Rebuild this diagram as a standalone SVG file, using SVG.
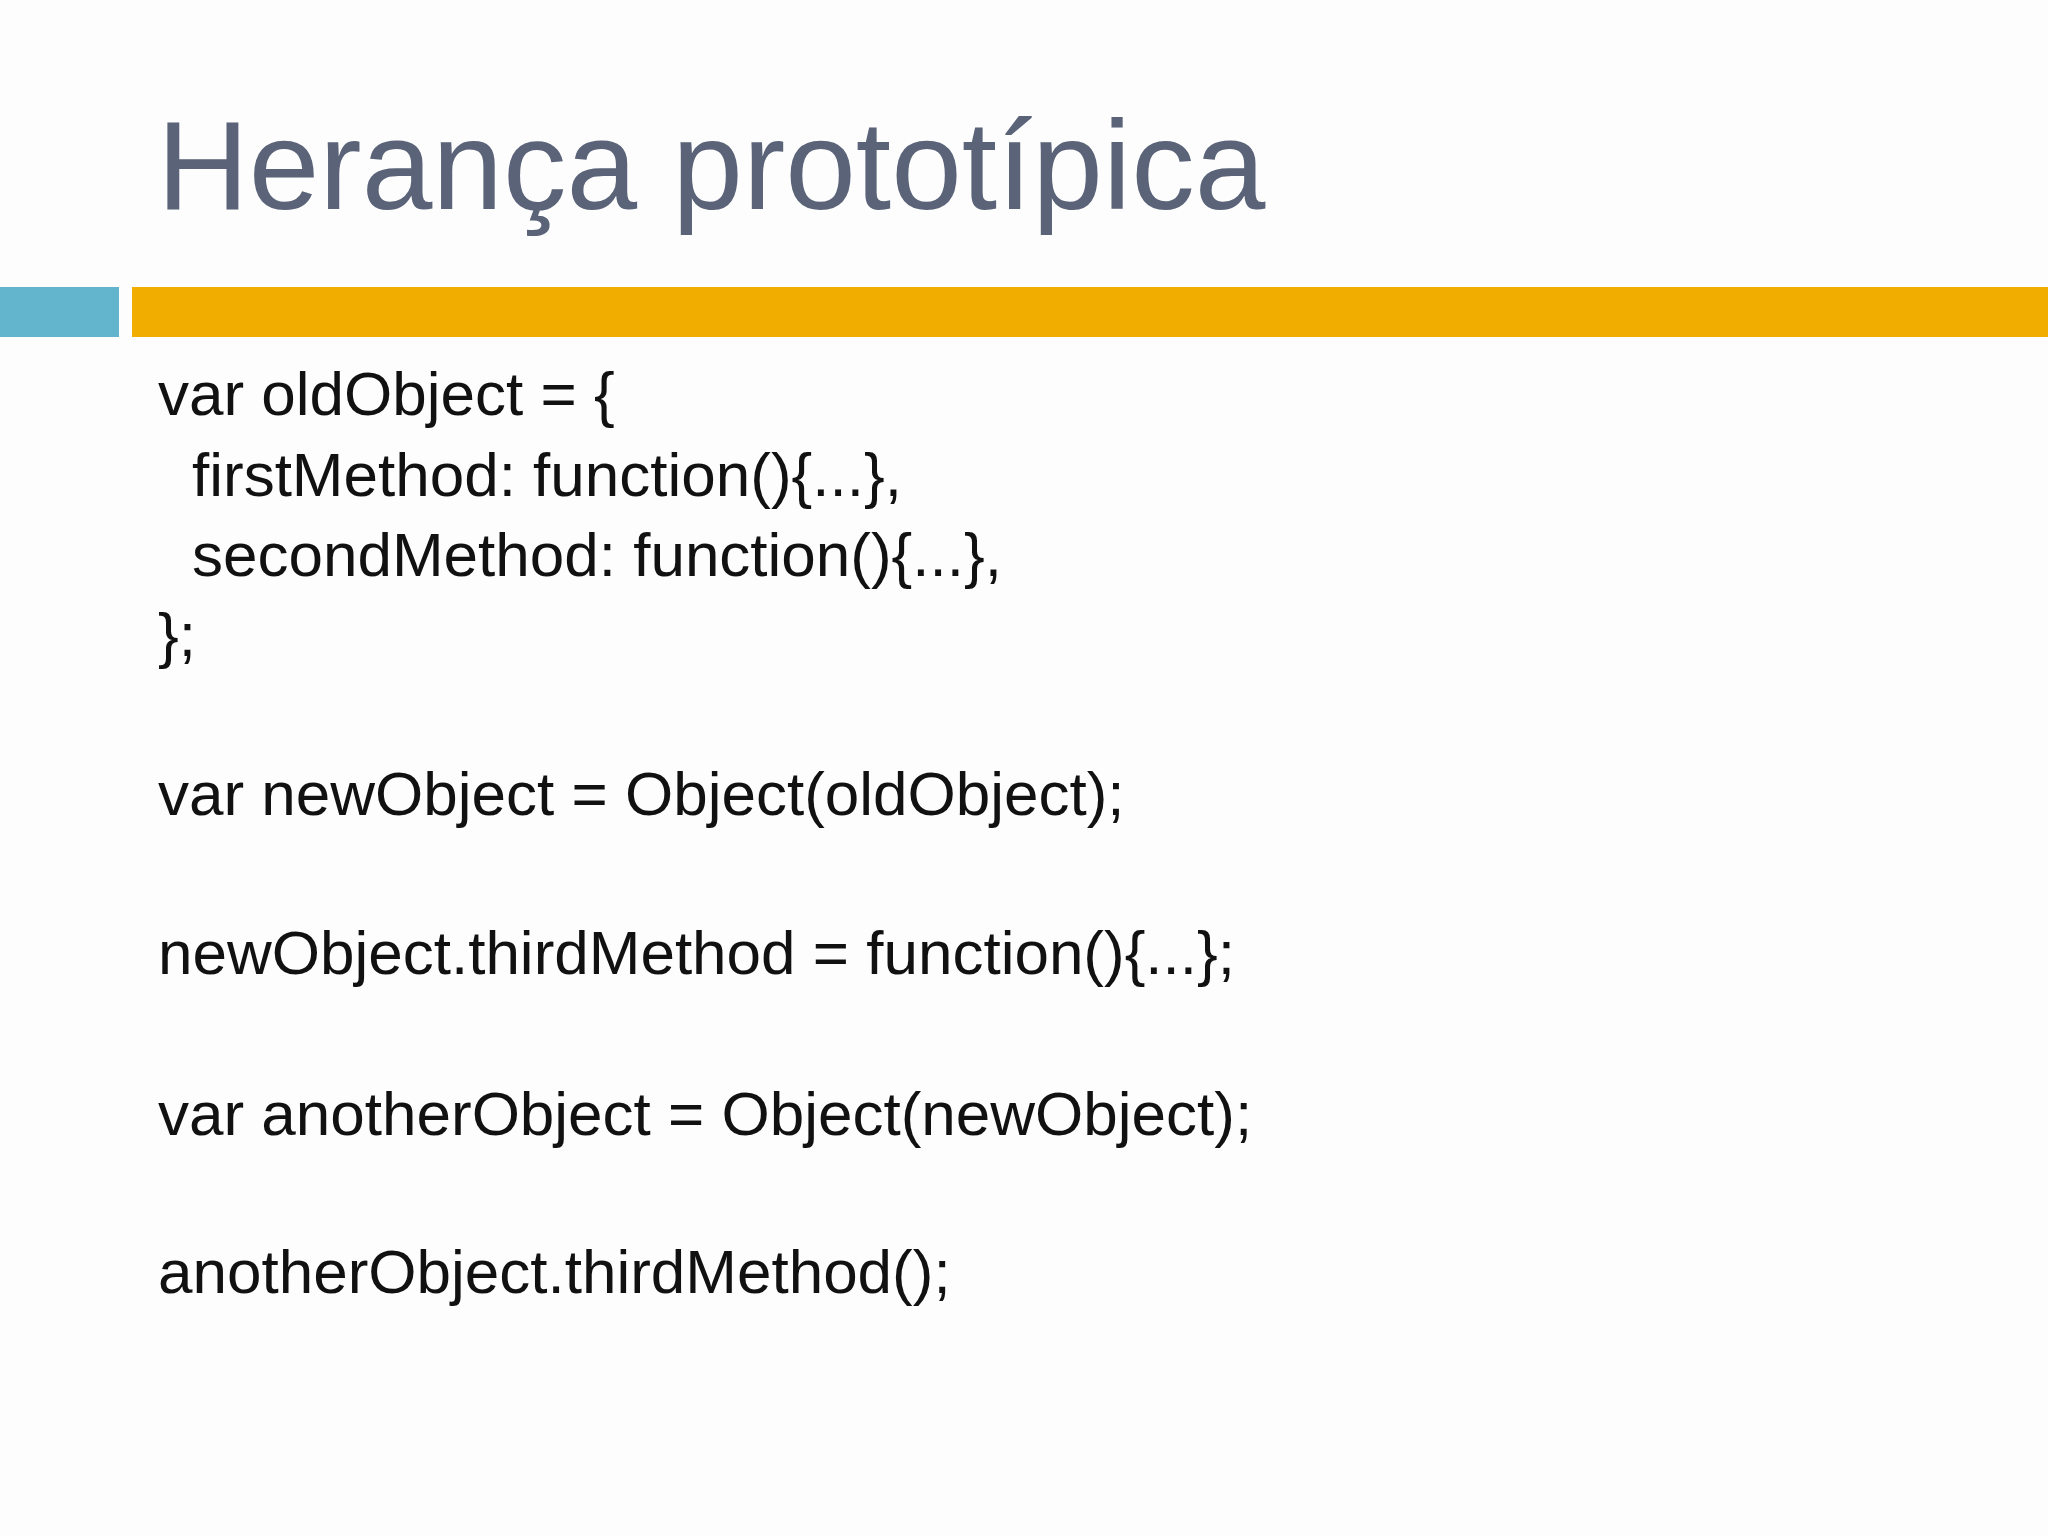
<svg xmlns="http://www.w3.org/2000/svg" width="2048" height="1536" viewBox="0 0 2048 1536">
<style>
.t{font-family:"Liberation Sans",Arial,sans-serif;font-size:127px;fill:#5a6378}
.c{font-family:"Liberation Sans",Arial,sans-serif;font-size:62px;fill:#111}
</style>
<rect width="2048" height="1536" fill="#fdfdfd"/>
<text class="t" x="157" y="209">Herança prototípica</text>
<rect x="0" y="287" width="119" height="50" fill="#62b5cc"/>
<rect x="132" y="287" width="1916" height="50" fill="#f2ae00"/>
<g id="code">
<text class="c" x="158" y="415">var oldObject = {</text>
<text class="c" x="192" y="496">firstMethod: function(){...},</text>
<text class="c" x="192" y="576">secondMethod: function(){...},</text>
<text class="c" x="158" y="656">};</text>
<text class="c" x="158" y="815">var newObject = Object(oldObject);</text>
<text class="c" x="158" y="974">newObject.thirdMethod = function(){...};</text>
<text class="c" x="158" y="1135">var anotherObject = Object(newObject);</text>
<text class="c" x="158" y="1293">anotherObject.thirdMethod();</text>
</g>
</svg>
